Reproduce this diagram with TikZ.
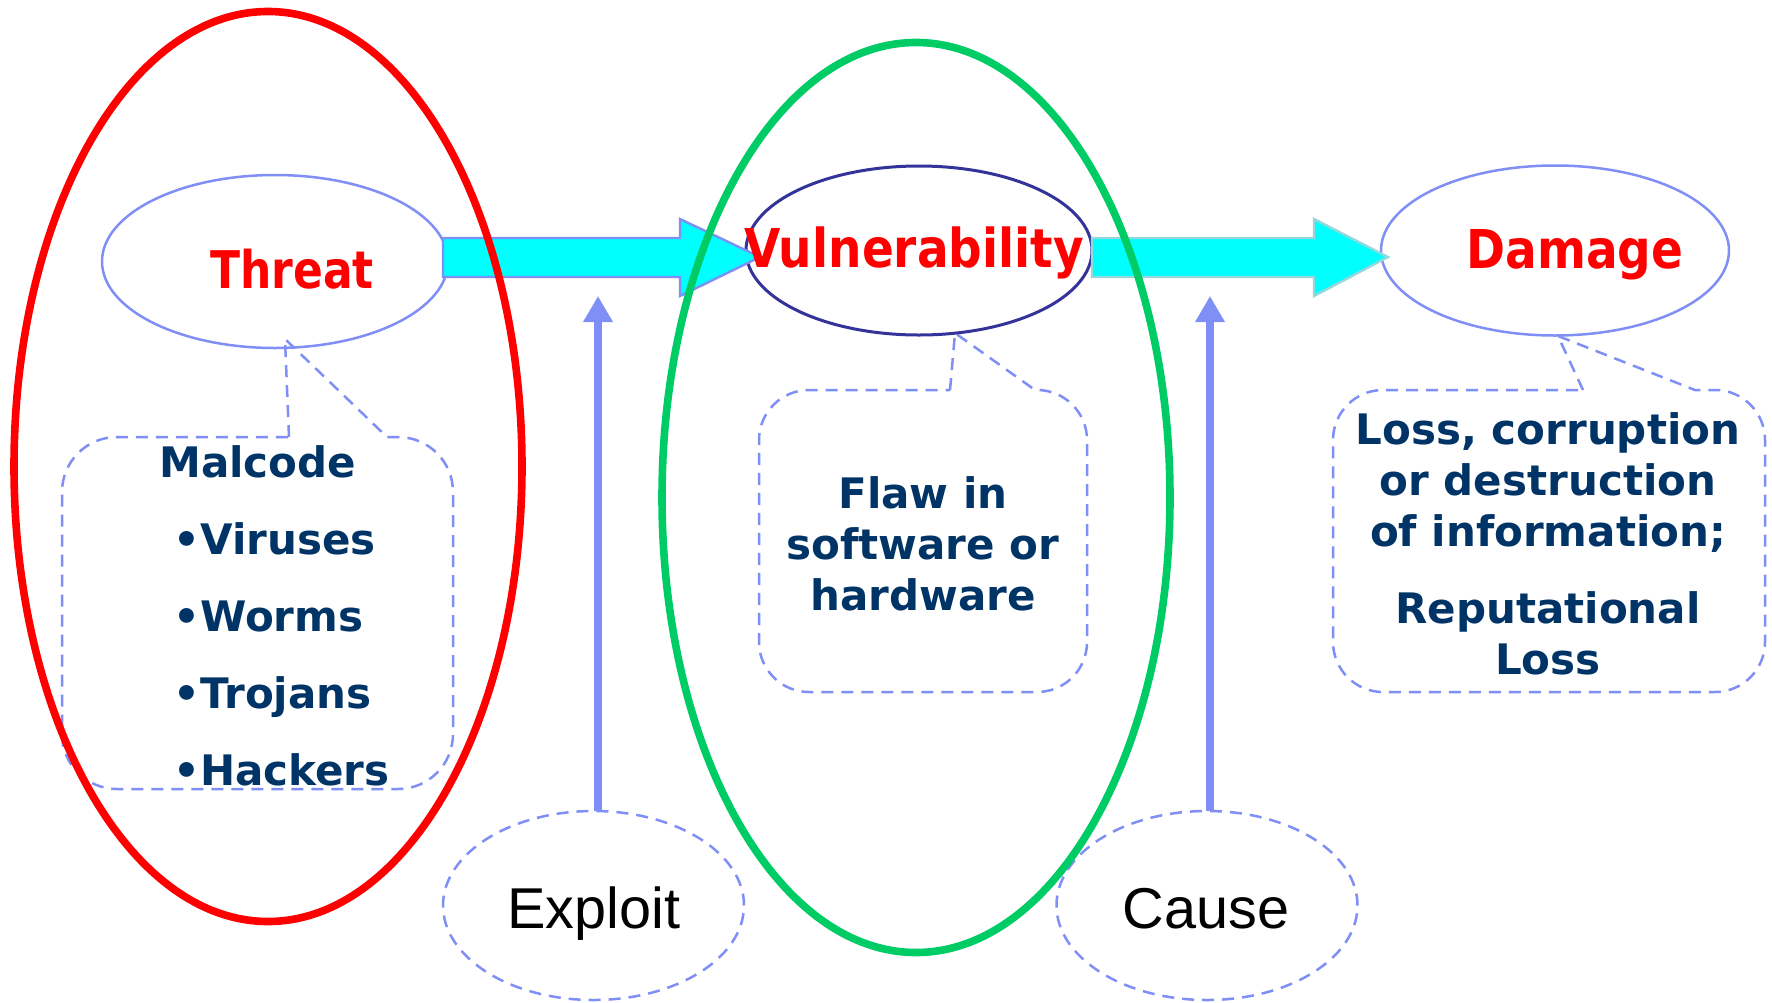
\documentclass[tikz,border=0pt]{standalone}
\usepackage{fontspec}
\setmainfont{DejaVu Sans}
\newfontfamily\libsans{Liberation Sans}
\usetikzlibrary{shapes.geometric,arrows.meta}
\definecolor{lineblue}{RGB}{127,143,245}
\definecolor{navytext}{RGB}{0,51,102}
\definecolor{navyline}{RGB}{51,51,153}
\definecolor{bigred}{RGB}{255,0,0}
\definecolor{biggreen}{RGB}{0,204,102}
\definecolor{cyanfill}{RGB}{0,255,255}
\definecolor{paleline}{RGB}{150,215,220}
\newcommand{\tallA}[1]{\scalebox{1}[1.18]{#1}}
\newcommand{\tallB}[1]{\scalebox{1}[1.14]{#1}}
\tikzset{
  ovalnode/.style={ellipse, inner sep=0pt, outer sep=0pt},
  bigoval/.style={ovalnode, draw, line width=3.8pt, minimum width=254pt, minimum height=455pt},
  smalloval/.style={ovalnode, draw=lineblue, line width=1.25pt},
  dashline/.style={draw=lineblue, line width=1.25pt, dash pattern=on 6pt off 4pt},
  titletext/.style={anchor=base, inner sep=0pt, text=bigred, font=\bfseries\fontsize{23.5}{28}\selectfont},
  bodytext/.style={anchor=base, inner sep=0pt, text=navytext, font=\bfseries\fontsize{21}{25}\selectfont},
  listtext/.style={bodytext, anchor=base west},
  plaintext/.style={anchor=base, inner sep=0pt, text=black, font=\libsans\fontsize{28.8}{34}\selectfont},
  blockarrow/.style={fill=cyanfill, line width=1.2pt, line join=miter},
  thinarrow/.style={draw=lineblue, line width=4.4pt, -{Triangle[length=13pt,width=14pt]}}
}
\begin{document}
\begin{tikzpicture}[x=0.5pt,y=-0.5pt]
\fill[white] (0,0) rectangle (1772,1002);
\useasboundingbox (0,0) rectangle (1772,1002);

% callouts (dashed rounded boxes with pointers)
\draw[dashline] (289,437) -- (285,339) -- (387,437) -- (398,437)
  .. controls (428.4,437) and (453,461.6) .. (453,492) -- (453,734)
  .. controls (453,764.4) and (428.4,789) .. (398,789) -- (117,789)
  .. controls (86.6,789) and (62,764.4) .. (62,734) -- (62,492)
  .. controls (62,461.6) and (86.6,437) .. (117,437) -- cycle;
\draw[dashline] (950,390) -- (955,333) -- (1035,390) -- (1037,390)
  .. controls (1064.6,390) and (1087,412.4) .. (1087,440) -- (1087,642)
  .. controls (1087,669.6) and (1064.6,692) .. (1037,692) -- (809,692)
  .. controls (781.4,692) and (759,669.6) .. (759,642) -- (759,440)
  .. controls (759,412.4) and (781.4,390) .. (809,390) -- cycle;
\draw[dashline] (1583,390) -- (1558,336) -- (1695,390) -- (1715,390)
  .. controls (1742.6,390) and (1765,412.4) .. (1765,440) -- (1765,642)
  .. controls (1765,669.6) and (1742.6,692) .. (1715,692) -- (1383,692)
  .. controls (1355.4,692) and (1333,669.6) .. (1333,642) -- (1333,440)
  .. controls (1333,412.4) and (1355.4,390) .. (1383,390) -- cycle;

% small ovals
\node[smalloval, minimum width=173pt, minimum height=86.5pt] (threat) at (275,261.5) {};
\node[ovalnode, draw=navyline, line width=1.5pt, minimum width=173pt, minimum height=84.5pt] (vuln) at (919,250.5) {};
\node[smalloval, minimum width=174pt, minimum height=85pt] (damage) at (1555,250.5) {};

% exploit / cause ovals
\node[ovalnode, dashline, minimum width=150.5pt, minimum height=94.5pt] (exploit) at (593.5,905.5) {};
\node[ovalnode, dashline, minimum width=150.5pt, minimum height=94.5pt] (cause) at (1207,905.5) {};

% block arrows
\draw[blockarrow, draw=lineblue] (443,238) -- (680,238) -- (680,219) -- (760,257) -- (680,296) -- (680,277) -- (443,277) -- cycle;
\draw[blockarrow, draw=paleline] (1092,238) -- (1314,238) -- (1314,219) -- (1388,257) -- (1314,296) -- (1314,277) -- (1092,277) -- cycle;

% thin arrows
\coordinate (exploittip) at (598,296);
\coordinate (causetip) at (1210,296);
\draw[thinarrow] (exploit.north -| exploittip) -- (exploittip);
\draw[thinarrow] (cause.north -| causetip) -- (causetip);

% big ovals
\node[bigoval, draw=bigred] (threatzone) at (268,466.5) {};
\node[bigoval, draw=biggreen] (vulnzone) at (916,497.5) {};

% titles
\node[titletext, font=\bfseries\fontsize{22}{26}\selectfont] (threatlbl) at (292,288) {\tallA{Threat}};
\node[titletext] (vulnlbl) at (914,267) {\tallB{Vulnerability}};
\node[titletext] (damagelbl) at (1575,268) {\tallB{Damage}};

% threat list
\node[listtext] (malcode) at (159,477) {Malcode};
\node[listtext] (viruses) at (173,554) {•Viruses};
\node[listtext] (worms) at (173,631) {•Worms};
\node[listtext] (trojans) at (173,708) {•Trojans};
\node[listtext] (hackers) at (173,785) {•Hackers};

% vulnerability text
\node[bodytext] (flaw1) at (923,508) {Flaw in};
\node[bodytext] (flaw2) at (923,559) {software or};
\node[bodytext] (flaw3) at (923,610) {hardware};

% damage text
\node[bodytext] (loss1) at (1548,444) {Loss, corruption};
\node[bodytext] (loss2) at (1548,495) {or destruction};
\node[bodytext] (loss3) at (1548,546) {of information;};
\node[bodytext] (rep1) at (1548,623) {Reputational};
\node[bodytext] (rep2) at (1548,674) {Loss};

% exploit / cause labels
\node[plaintext] (exploitlbl) at (594,928) {Exploit};
\node[plaintext] (causelbl) at (1206,928) {Cause};
\end{tikzpicture}
\end{document}
